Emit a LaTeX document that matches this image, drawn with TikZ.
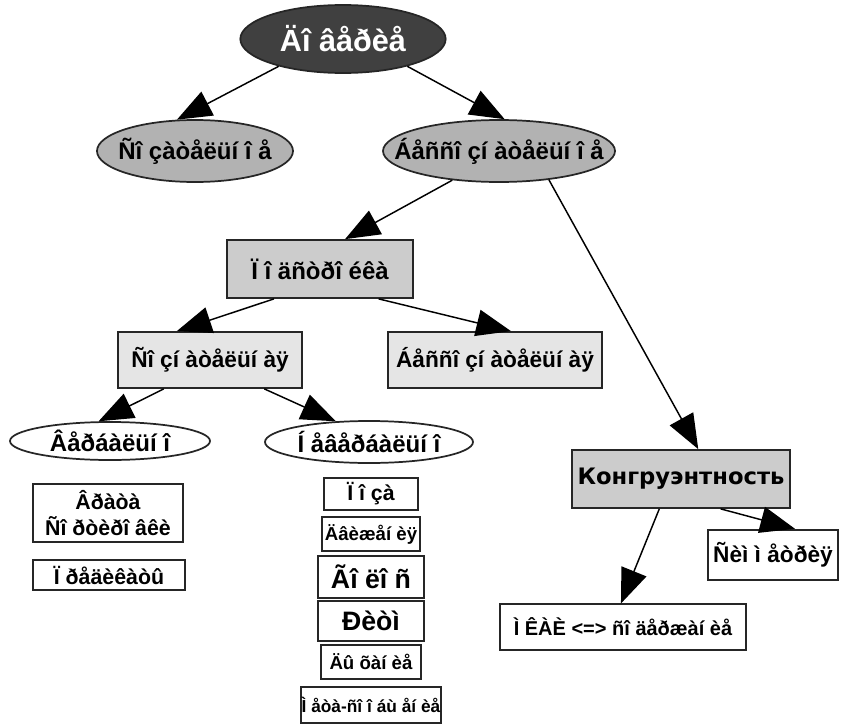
\documentclass[tikz,border=0pt]{standalone}
\usepackage{fontspec}
\setmainfont{Liberation Sans}
\newfontfamily\cyrfont{DejaVu Sans}
\usetikzlibrary{arrows.meta, shapes.geometric}

\begin{document}
\begin{tikzpicture}[x=0.75pt, y=-0.75pt,
        oval/.style={ellipse, draw=black!85, line width=1.3pt, inner sep=-30pt, font=\bfseries\fontsize{18}{21}\selectfont},
        box/.style={rectangle, draw=black!85, line width=1.3pt, inner sep=0pt, align=center, font=\bfseries\fontsize{16}{19}\selectfont},
        link/.style={line width=1.1pt, -{Triangle[length=26pt,width=20pt]}}]
        \useasboundingbox (0,0) rectangle (845,724);

        % top of the tree
        \node[oval, fill=black!75, text=white, minimum width=154pt, minimum height=51pt,
            font=\bfseries\fontsize{23}{26}\selectfont] (root) at (343,39) {Äî âåðèå};
        \node[oval, fill=black!30, minimum width=147pt, minimum height=46.5pt] (soz) at (195,151) {Ñî çàòåëüí î å};
        \node[oval, fill=black!30, minimum width=174pt, minimum height=46.5pt] (bess) at (499,151) {Áåññî çí àòåëüí î å};

        \node[box, fill=black!20, minimum width=139pt, minimum height=43.5pt,
            font=\bfseries\fontsize{18}{21}\selectfont] (podstr) at (320,269) {Ï î äñòðî éêà};
        \node[box, fill=black!10, minimum width=138pt, minimum height=42pt,
            font=\bfseries\fontsize{17}{20}\selectfont] (soznat) at (210,360) {Ñî çí àòåëüí àÿ};
        \node[box, fill=black!10, minimum width=160.5pt, minimum height=42pt,
            font=\bfseries\fontsize{17}{20}\selectfont] (bessoznat) at (495,360) {Áåññî çí àòåëüí àÿ};

        \node[oval, fill=white, minimum width=150pt, minimum height=28.5pt] (verb) at (110,441) {Âåðáàëüí î};
        \node[oval, fill=white, minimum width=156pt, minimum height=31.5pt] (nev) at (369,442) {Í åâåðáàëüí î};

        % left column
        \node[box, minimum width=112.5pt, minimum height=44pt] (vrata) at (108,513) {Âðàòà\\Ñî ðòèðî âêè};
        \node[box, minimum width=114pt, minimum height=22.5pt] (pred) at (109,575) {Ï ðåäèêàòû};

        % right column
        \foreach \nm/\yy/\ww/\hh/\fs/\txt in {poza/494/71/24/16/{Ï î çà}, dvizh/534/73.5/26/14/{Äâèæåí èÿ},
                golos/577/79/31/20/{Ãî ëî ñ}, ritm/621/79/30/20/{Ðèòì}, dykh/662/75/26/14/{Äû õàí èå},
                meta/705/105/27/13/{Ì åòà-ñî î áù åí èå}} {
            \node[box, minimum width=\ww pt, minimum height=\hh pt,
                font=\bfseries\fontsize{\fs}{\fs}\selectfont] (\nm) at (371,\yy) {\txt};
        }

        % congruence branch
        \node[box, fill=black!20, minimum width=163.5pt, minimum height=43.5pt,
            font=\cyrfont\bfseries\fontsize{17}{20}\selectfont] (kong) at (681,479) {Конгруэнтность};
        \node[box, minimum width=97pt, minimum height=38pt,
            font=\bfseries\fontsize{17}{20}\selectfont] (simm) at (773,555) {Ñèì ì åòðèÿ};
        \node[box, minimum width=185pt, minimum height=34pt,
            font=\bfseries\fontsize{15}{18}\selectfont] (mkai) at (623,627) {Ì ÊÀÈ <=> ñî äåðæàí èå};

        \draw[link] (root.203) -- (soz.120);
        \draw[link] (root.-23) -- (bess.80);
        \draw[link] (bess.212) -- (podstr.50);
        \draw[link] (bess.-30) -- (kong.60);
        \draw[link] (podstr.213) -- (soznat.139);
        \draw[link] (podstr.-27) -- (bessoznat.61);
        \draw[link] (soznat.212) -- (verb.120);
        \draw[link] (soznat.-28) -- (nev.148);
        \draw[link] (kong.-37) -- (simm.50);
        \draw[link] (kong.234) -- (mkai.95);
    \end{tikzpicture}
\end{document}
